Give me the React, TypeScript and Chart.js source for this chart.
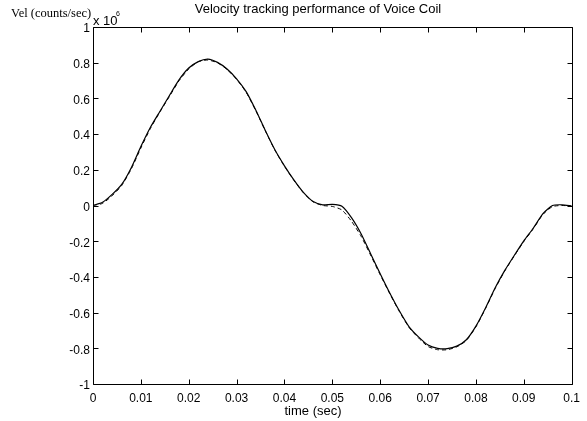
import React, { useEffect, useRef } from 'react';
import { Chart, registerables } from 'chart.js';

Chart.register(...registerables);

// time axis (sec)
const timeSec = [
  0, 0.002, 0.004, 0.006, 0.008, 0.01, 0.012, 0.014, 0.016, 0.018,
  0.02, 0.022, 0.024, 0.026, 0.028, 0.03, 0.032, 0.034, 0.036, 0.038,
  0.04, 0.042, 0.044, 0.046, 0.048, 0.05, 0.052, 0.054, 0.056, 0.058,
  0.06, 0.062, 0.064, 0.066, 0.068, 0.07, 0.072, 0.074, 0.076, 0.078,
  0.08, 0.082, 0.084, 0.086, 0.088, 0.09, 0.092, 0.094, 0.096, 0.098, 0.1,
];

// measured velocity (x 10^6 counts/sec), solid line
const measuredVel = [
  0, 0.018, 0.062, 0.118, 0.212, 0.33, 0.438, 0.528, 0.618, 0.705,
  0.77, 0.806, 0.82, 0.802, 0.765, 0.71, 0.638, 0.535, 0.42, 0.312,
  0.222, 0.142, 0.072, 0.022, 0.004, 0.006, -0.004, -0.068, -0.158, -0.27,
  -0.382, -0.49, -0.59, -0.678, -0.736, -0.782, -0.8, -0.802, -0.788, -0.752,
  -0.676, -0.574, -0.462, -0.365, -0.28, -0.198, -0.126, -0.046, 0.0, 0.004, -0.003,
];

// reference velocity (x 10^6 counts/sec), dashed line
const referenceVel = [
  0, 0.012, 0.055, 0.112, 0.205, 0.322, 0.432, 0.525, 0.612, 0.7,
  0.765, 0.806, 0.815, 0.8, 0.762, 0.707, 0.634, 0.532, 0.418, 0.31,
  0.22, 0.14, 0.07, 0.02, 0.0, -0.005, -0.025, -0.088, -0.172, -0.278,
  -0.388, -0.494, -0.594, -0.682, -0.742, -0.79, -0.808, -0.808, -0.792, -0.756,
  -0.68, -0.578, -0.466, -0.368, -0.283, -0.202, -0.13, -0.05, -0.006, 0.0, -0.003,
];

const xTickValues = [0, 0.01, 0.02, 0.03, 0.04, 0.05, 0.06, 0.07, 0.08, 0.09, 0.1];
const yTickValues = [-1, -0.8, -0.6, -0.4, -0.2, 0, 0.2, 0.4, 0.6, 0.8, 1];

const titleText = 'Velocity tracking performance of Voice Coil';
const yLabelText = 'Vel (counts/sec)';
const xLabelText = 'time (sec)';

const SANS = '"Liberation Sans", Arial, Helvetica, sans-serif';
const SERIF = '"Liberation Serif", "Times New Roman", serif';

const fmt = (v: number) => String(Math.round(v * 100) / 100);

export default function App() {
  const ref = useRef<HTMLCanvasElement | null>(null);

  useEffect(() => {
    if (!ref.current) return;

    const framePlugin = {
      id: 'matlabFrame',
      afterDraw(chart: any) {
        const ctx = chart.ctx;
        const { left, right, top, bottom } = chart.chartArea;
        const xs = chart.scales.x;
        const ys = chart.scales.y;
        const L = Math.round(left) + 0.5;
        const R = Math.round(right) + 0.5;
        const T = Math.round(top) + 0.5;
        const B = Math.round(bottom) + 0.5;
        ctx.save();
        ctx.strokeStyle = '#000';
        ctx.lineWidth = 1;
        ctx.beginPath();
        ctx.rect(L, T, R - L, B - T);
        ctx.stroke();
        const tl = 5;
        ctx.beginPath();
        xTickValues.forEach((v) => {
          const px = Math.round(xs.getPixelForValue(v)) + 0.5;
          ctx.moveTo(px, B);
          ctx.lineTo(px, B - tl);
          ctx.moveTo(px, T);
          ctx.lineTo(px, T + tl);
        });
        yTickValues.forEach((v) => {
          const py = Math.round(ys.getPixelForValue(v)) + 0.5;
          ctx.moveTo(L, py);
          ctx.lineTo(L + tl, py);
          ctx.moveTo(R, py);
          ctx.lineTo(R - tl, py);
        });
        ctx.stroke();

        ctx.fillStyle = '#000';
        ctx.textBaseline = 'middle';
        ctx.font = `13px ${SANS}`;
        ctx.textAlign = 'center';
        ctx.fillText(titleText, 318, 9);
        ctx.fillText(xLabelText, 313, 411);
        ctx.textAlign = 'left';
        ctx.fillText('x 10', 93, 21);
        ctx.font = `7px ${SANS}`;
        ctx.fillText('6', 116, 14);
        ctx.font = `12.5px ${SERIF}`;
        ctx.fillText(yLabelText, 11, 14);
        ctx.restore();
      },
    };

    const chart = new Chart(ref.current, {
      type: 'line',
      data: {
        datasets: [
          {
            label: 'reference',
            data: timeSec.map((t, i) => ({ x: t, y: referenceVel[i] })),
            borderColor: '#000',
            borderWidth: 1,
            borderDash: [4, 3],
            pointRadius: 0,
            tension: 0.2,
            fill: false,
          },
          {
            label: 'measured',
            data: timeSec.map((t, i) => ({ x: t, y: measuredVel[i] })),
            borderColor: '#000',
            borderWidth: 1.2,
            pointRadius: 0,
            tension: 0.2,
            fill: false,
          },
        ],
      },
      options: {
        animation: false,
        responsive: false,
        devicePixelRatio: 1,
        layout: { padding: { left: 0, top: 27, right: 9, bottom: 0 } },
        plugins: {
          legend: { display: false },
          tooltip: { enabled: false },
          title: { display: false },
        },
        scales: {
          x: {
            type: 'linear',
            min: 0,
            max: 0.1,
            afterFit: (s: any) => {
              s.height = 37;
            },
            afterBuildTicks: (s: any) => {
              s.ticks = xTickValues.map((v) => ({ value: v }));
            },
            ticks: {
              autoSkip: false,
              maxRotation: 0,
              padding: 7,
              color: '#000',
              font: { family: SANS, size: 12 },
              callback: (v: any) => fmt(Number(v)),
            },
            grid: { display: false, drawTicks: false },
            border: { display: false },
          },
          y: {
            type: 'linear',
            min: -1,
            max: 1,
            afterFit: (s: any) => {
              s.width = 93;
            },
            afterBuildTicks: (s: any) => {
              s.ticks = yTickValues.map((v) => ({ value: v }));
            },
            ticks: {
              autoSkip: false,
              padding: 3,
              labelOffset: 2,
              color: '#000',
              font: { family: SANS, size: 12 },
              callback: (v: any) => fmt(Number(v)),
            },
            grid: { display: false, drawTicks: false },
            border: { display: false },
          },
        },
      },
      plugins: [framePlugin],
    });

    return () => chart.destroy();
  }, []);

  return (
    <div style={{ position: 'absolute', left: 0, top: 0, width: 587, height: 421, background: '#fff' }}>
      <canvas ref={ref} width={587} height={421} />
    </div>
  );
}
